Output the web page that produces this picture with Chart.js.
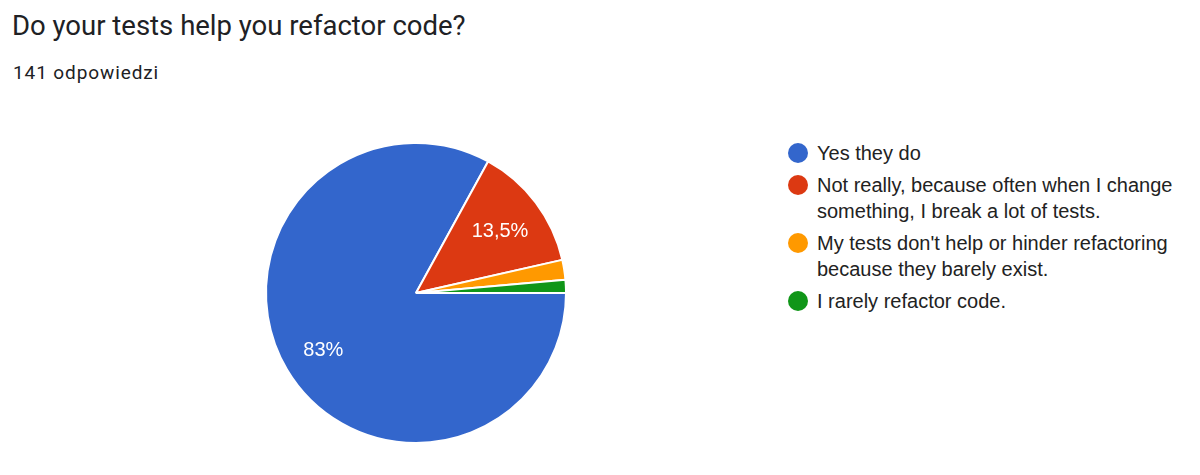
<!DOCTYPE html>
<html>
<head>
<meta charset="utf-8">
<script src="https://cdn.jsdelivr.net/npm/chart.js@4.4.1/dist/chart.umd.min.js"></script>
<style>
  body { margin: 0; background: #fff; width: 1200px; height: 475px; position: relative; overflow: hidden; }
  #title { position: absolute; left: 12px; top: 9px; font-family: Roboto, "Noto Sans", sans-serif; font-size: 27.5px; color: #202124; }
  #subtitle { position: absolute; left: 13px; top: 61px; font-family: Roboto, "Noto Sans", sans-serif; font-size: 19px; letter-spacing: 0.9px; color: #202124; }
  #pieBox { position: absolute; left: 256px; top: 133px; width: 320px; height: 320px; }
  #legend { position: absolute; left: 788px; top: 140px; font-family: "Liberation Sans", Arial, sans-serif; font-size: 20px; color: #222; }
  .item { position: relative; padding-left: 29px; line-height: 26px; margin-bottom: 6px; width: 375px; }
  .dot { position: absolute; left: 0; top: 3px; width: 20px; height: 20px; border-radius: 50%; }
</style>
</head>
<body>
<div id="title">Do your tests help you refactor code?</div>
<div id="subtitle">141 odpowiedzi</div>
<div id="pieBox"><canvas id="pie"></canvas></div>
<div id="legend"></div>
<script>
// Answers and counts
const answers = [
    'Yes they do',
    'Not really, because often when I change something, I break a lot of tests.',
    "My tests don't help or hinder refactoring because they barely exist.",
    'I rarely refactor code.'
];
const counts = [117, 19, 3, 2];
const colors = ['#3366cc', '#dc3912', '#ff9900', '#109618'];

const total = counts.reduce((a, b) => a + b, 0);

function formatPct(v) {
    const pct = v / total * 100;
    return pct.toLocaleString('pl-PL', { maximumFractionDigits: 1 }) + '%';
}

// Slice labels inside the pie
const sliceLabels = {
    id: 'sliceLabels',
    afterDatasetsDraw(chart) {
        const ctx = chart.ctx;
        const meta = chart.getDatasetMeta(0);
        ctx.save();
        ctx.fillStyle = '#fff';
        ctx.font = '20px "Liberation Sans", Arial, sans-serif';
        ctx.textAlign = 'center';
        ctx.textBaseline = 'middle';
        meta.data.forEach((arc, i) => {
            if (counts[i] / total < 0.05) return;
            const mid = (arc.startAngle + arc.endAngle) / 2;
            const r = arc.outerRadius * 0.71;
            ctx.fillText(formatPct(counts[i]), arc.x + Math.cos(mid) * r - 1, arc.y + Math.sin(mid) * r + 3);
        });
        ctx.restore();
    }
};

function initializeLegend() {
    const legend = document.getElementById('legend');
    answers.forEach((text, i) => {
        const item = document.createElement('div');
        item.className = 'item';
        item.innerHTML = '<span class="dot" style="background:' + colors[i] + '"></span>' + text;
        legend.appendChild(item);
    });
}

function initializePie() {
    const ctx = document.getElementById('pie').getContext('2d');
    new Chart(ctx, {
        type: 'pie',
        data: {
            labels: answers,
            datasets: [{
                data: counts,
                backgroundColor: colors,
                borderColor: '#fff',
                borderWidth: 2
            }]
        },
        options: {
            responsive: true,
            maintainAspectRatio: false,
            animation: false,
            rotation: 90,
            layout: { padding: 9 },
            plugins: {
                legend: { display: false },
                tooltip: { enabled: false }
            }
        },
        plugins: [sliceLabels]
    });
}

initializeLegend();
initializePie();
</script>
</body>
</html>
